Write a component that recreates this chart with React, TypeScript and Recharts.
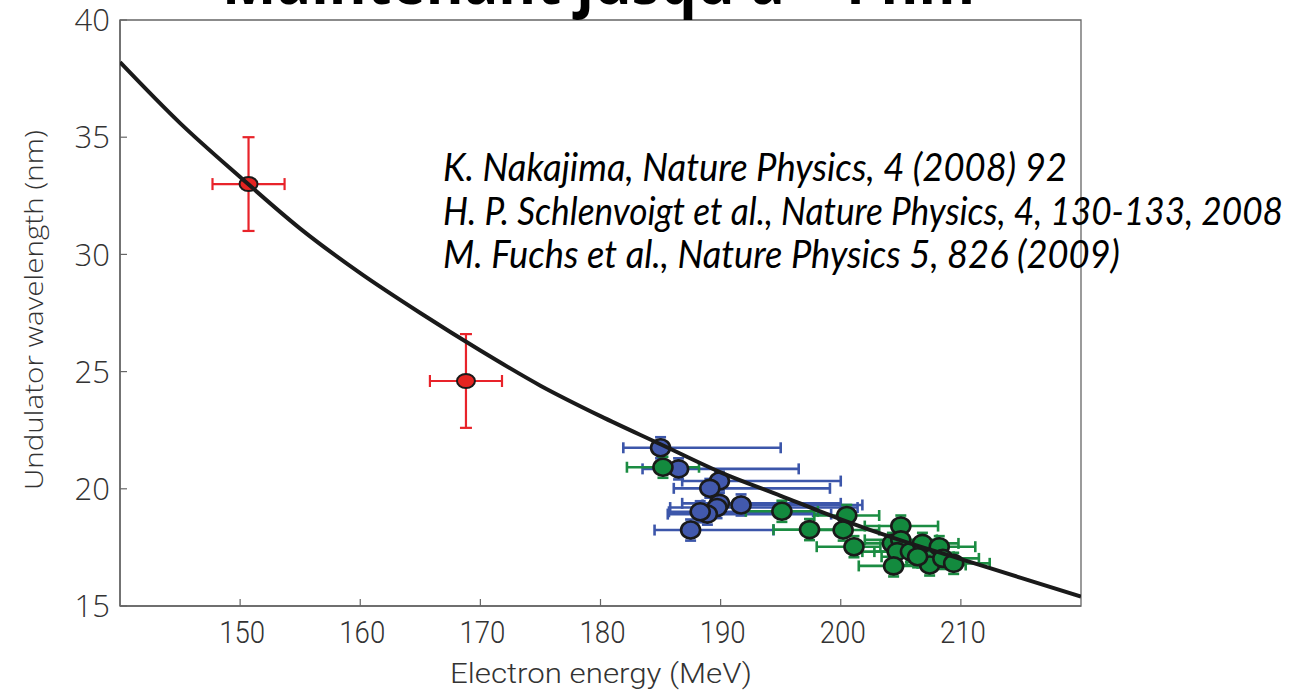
import React from 'react';
import { ComposedChart, Line, Scatter, XAxis, YAxis, ErrorBar, ReferenceArea } from 'recharts';

// theory curve, every 5 MeV
const curveEnergy = [140, 145, 150, 155, 160, 165, 170, 175, 180, 185, 190, 195, 200, 205, 210, 215, 220];
const curveWavelength = [38.2, 35.6, 33.3, 31.1, 29.2, 27.5, 25.9, 24.4, 23.1, 21.9, 20.7, 19.7, 18.7, 17.8, 17.0, 16.2, 15.4];

// red points (Schlenvoigt)
const redEnergy = [150.7, 168.8];
const redWavelength = [33.0, 24.6];
const redEnergyErr = [3.0, 3.0];
const redWavelengthErr = [2.0, 2.0];

// blue points
const blueEnergy = [185.0, 186.5, 189.9, 189.1, 189.9, 191.7, 189.7, 188.9, 188.3, 187.5];
const blueWavelength = [21.75, 20.85, 20.33, 20.02, 19.38, 19.31, 19.2, 18.92, 19.02, 18.24];
const blueErrLow = [3.1, 3.0, 3.1, 3.0, 3.1, 3.2, 3.9, 3.3, 2.6, 3.0];
const blueErrHigh = [10.0, 10.0, 10.1, 10.0, 10.1, 10.1, 11.7, 10.3, 9.4, 6.9];
const blueWavelengthErr = [0.45, 0.45, 0.4, 0.4, 0.45, 0.45, 0.45, 0.45, 0.45, 0.45];

// green points
const greenEnergy = [185.2, 195.1, 197.4, 200.5, 200.2, 201.1, 205.0, 204.3, 205.0, 204.7, 205.8, 206.8, 208.2, 204.4, 207.4, 208.5, 209.4, 206.4];
const greenWavelength = [20.92, 19.04, 18.26, 18.86, 18.24, 17.53, 18.41, 17.67, 17.82, 17.32, 17.32, 17.67, 17.53, 16.71, 16.75, 17.03, 16.82, 17.1];
const greenErrLow = [3.0, 3.0, 3.0, 2.7, 3.0, 3.1, 3.0, 3.0, 3.0, 2.9, 3.0, 3.0, 3.0, 2.9, 3.0, 3.0, 3.0, 3.0];
const greenErrHigh = [3.0, 3.0, 3.0, 2.7, 3.0, 2.2, 3.1, 3.0, 3.0, 3.0, 3.0, 3.0, 3.0, 3.0, 3.0, 3.0, 3.0, 3.0];
const greenWavelengthErr = [0.45, 0.45, 0.45, 0.45, 0.45, 0.45, 0.45, 0.45, 0.45, 0.45, 0.45, 0.45, 0.45, 0.45, 0.45, 0.45, 0.45, 0.45];

const xTicks = [150, 160, 170, 180, 190, 200, 210];
const yTicks = [15, 20, 25, 30, 35, 40];

const citations = [
  'K. Nakajima, Nature Physics, 4 (2008) 92',
  'H. P. Schlenvoigt et al., Nature Physics, 4, 130-133, 2008',
  'M. Fuchs et al., Nature Physics 5, 826 (2009)',
];
const citationWidths = [624, 840, 677];
const title = "Maintenant jusqu'à ~4 nm";

const curveData = curveEnergy.map((x, i) => ({ x, y: curveWavelength[i] }));
const redData = redEnergy.map((x, i) => ({ x, y: redWavelength[i], ex: [redEnergyErr[i], redEnergyErr[i]], ey: redWavelengthErr[i] }));
const blueData = blueEnergy.map((x, i) => ({ x, y: blueWavelength[i], ex: [blueErrLow[i], blueErrHigh[i]], ey: blueWavelengthErr[i] }));
const greenData = greenEnergy.map((x, i) => ({ x, y: greenWavelength[i], ex: [greenErrLow[i], greenErrHigh[i]], ey: greenWavelengthErr[i] }));

const axisColor = '#666';
const labelColor = '#333';

const XTick = (props: any) => {
  const { x, y, payload } = props;
  return (
    <g>
      <line x1={x} y1={y} x2={x} y2={y - 7} stroke={axisColor} strokeWidth={1.2} />
      <text x={x + 2} y={y + 37} textAnchor="middle" fill={labelColor} fontFamily="Roboto" fontWeight={300} fontSize={31} textLength={46} lengthAdjust="spacingAndGlyphs">
        {payload.value}
      </text>
    </g>
  );
};

const YTick = (props: any) => {
  const { x, y, payload } = props;
  return (
    <g>
      <line x1={x} y1={y} x2={x + 7} y2={y} stroke={axisColor} strokeWidth={1.2} />
      <text x={x - 10} y={y} dy="0.36em" textAnchor="end" fill={labelColor} fontFamily="Open Sans" fontWeight={300} fontSize={31}>
        {payload.value}
      </text>
    </g>
  );
};

const dot = (fill: string, rx: number, ry: number, sw: number) => (props: any) => (
  <ellipse cx={props.cx} cy={props.cy} rx={rx} ry={ry} fill={fill} stroke="#1a1a1a" strokeWidth={sw} />
);

export default function App() {
  return (
    <div style={{ position: 'relative', width: 1307, height: 690 }}>
      <style>{`body { margin: 0; }`}</style>
      <ComposedChart width={1307} height={690} margin={{ top: 20, right: 226, bottom: 0, left: 0 }}>
        <XAxis
          type="number"
          dataKey="x"
          domain={[140, 220]}
          ticks={xTicks}
          allowDataOverflow
          height={84}
          tickSize={0}
          tickMargin={0}
          tick={<XTick />}
          axisLine={{ stroke: axisColor, strokeWidth: 1.5 }}
        />
        <YAxis
          type="number"
          dataKey="y"
          domain={[15, 40]}
          ticks={yTicks}
          allowDataOverflow
          width={120}
          tickSize={0}
          tickMargin={0}
          tick={<YTick />}
          axisLine={{ stroke: axisColor, strokeWidth: 1.5 }}
        />
        <ReferenceArea x1={140} x2={220} y1={15} y2={40} fill="none" stroke={axisColor} strokeWidth={1.3} ifOverflow="visible" />
        <Scatter data={redData} dataKey="y" isAnimationActive={false} shape={dot('#e52421', 9, 7, 2)}>
          <ErrorBar dataKey="ex" direction="x" stroke="#e8232a" strokeWidth={2.2} width={6} />
          <ErrorBar dataKey="ey" direction="y" stroke="#e8232a" strokeWidth={2.2} width={6} />
        </Scatter>
        <Scatter data={blueData} dataKey="y" isAnimationActive={false} shape={dot('#4259ad', 9.5, 8.5, 2.6)}>
          <ErrorBar dataKey="ex" direction="x" stroke="#3c56aa" strokeWidth={2.6} width={5.5} />
          <ErrorBar dataKey="ey" direction="y" stroke="#3c56aa" strokeWidth={2.6} width={5.5} />
        </Scatter>
        <Scatter data={greenData} dataKey="y" isAnimationActive={false} shape={dot('#138a3e', 9.5, 8.5, 2.6)}>
          <ErrorBar dataKey="ex" direction="x" stroke="#1b8c42" strokeWidth={2.6} width={5.5} />
          <ErrorBar dataKey="ey" direction="y" stroke="#1b8c42" strokeWidth={2.6} width={5.5} />
        </Scatter>
        <Line
          data={curveData}
          dataKey="y"
          type="monotone"
          stroke="#1a1a1a"
          strokeWidth={4}
          dot={false}
          activeDot={false}
          isAnimationActive={false}
          zIndex={1000}
        />
      </ComposedChart>
      <svg width={1307} height={690} style={{ position: 'absolute', left: 0, top: 0, pointerEvents: 'none' }}>
        <text x={222} y={4} fontFamily="Open Sans" fontWeight={700} fontSize={68} fill="#000" textLength={753} lengthAdjust="spacingAndGlyphs">
          {title}
        </text>
        {citations.map((c, i) => (
          <text key={c} x={443} y={181 + i * 43.5} fontFamily="Lato" fontStyle="italic" fontSize={38} fill="#000" textLength={citationWidths[i]} lengthAdjust="spacingAndGlyphs">
            {c}
          </text>
        ))}
        <text x={601} y={683} textAnchor="middle" fontFamily="Roboto" fontWeight={300} fontSize={28} fill={labelColor} textLength={302} lengthAdjust="spacingAndGlyphs">
          Electron energy (MeV)
        </text>
        <text x={33} y={310} transform="rotate(-90 33 310)" textAnchor="middle" dominantBaseline="central" fontFamily="Open Sans" fontWeight={300} fontSize={26} fill={labelColor} textLength={360} lengthAdjust="spacingAndGlyphs">
          Undulator wavelength (nm)
        </text>
      </svg>
    </div>
  );
}
